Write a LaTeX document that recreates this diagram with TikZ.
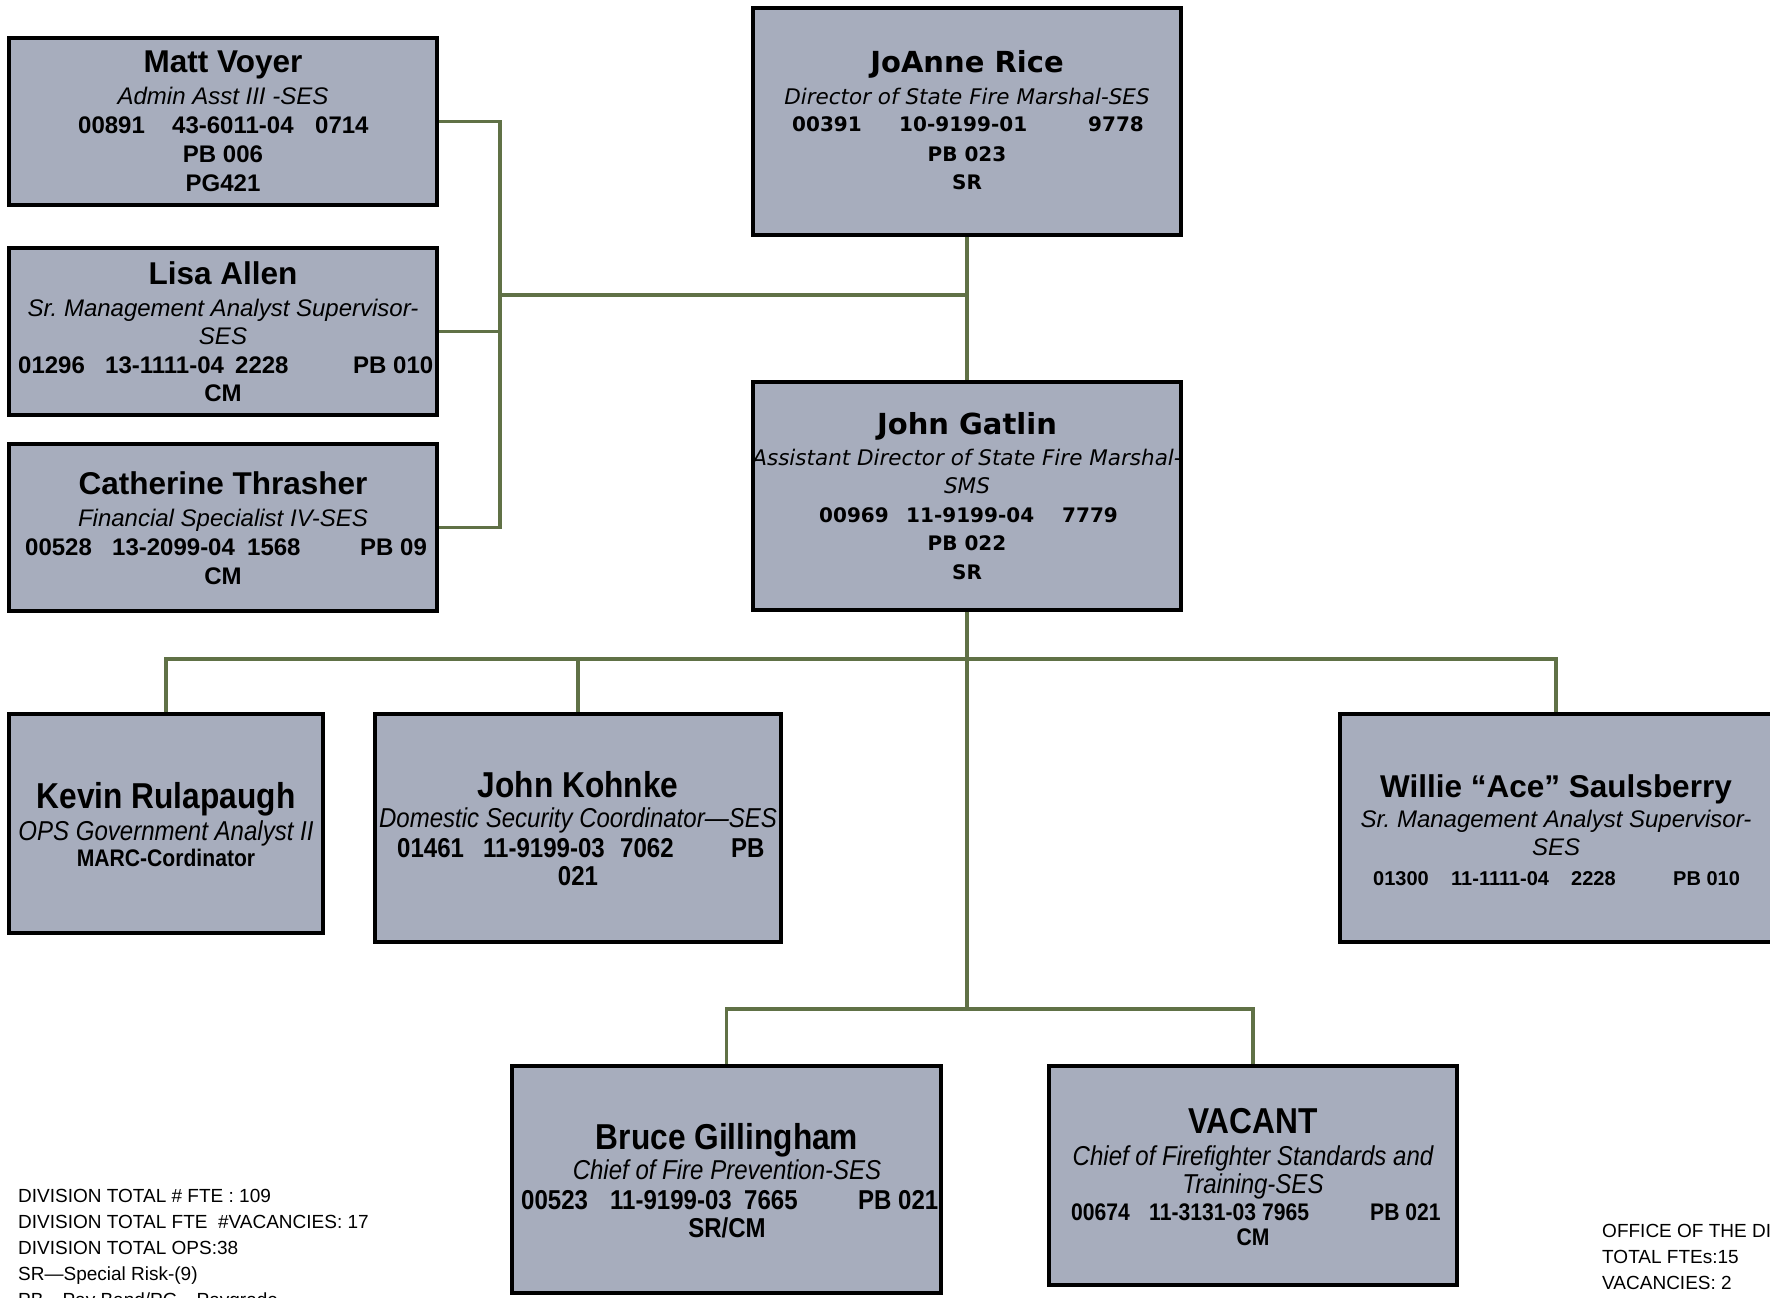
\documentclass[tikz,border=0pt]{standalone}
\usepackage{fontspec}
\setmainfont{Liberation Sans}
\newfontfamily\narrowf[FakeStretch=0.88]{Liberation Sans}
\newfontfamily\widef[ItalicFont={DejaVu Sans Oblique},BoldFont={DejaVu Sans Bold},BoldItalicFont={DejaVu Sans Bold Oblique}]{DejaVu Sans}
\definecolor{boxfill}{RGB}{167,173,189}
\definecolor{lineg}{RGB}{96,113,70}
\frenchspacing
\tikzset{
 box/.style={draw=black, line width=4pt, fill=boxfill, inner sep=0pt, rectangle},
 conn/.style={draw=lineg, line width=3.5pt},
 ctr/.style={inner sep=0pt, anchor=base},
 lft/.style={inner sep=0pt, anchor=base west},
 anam/.style={font=\bfseries\fontsize{31.5}{34}\selectfont},
 ait/.style={font=\itshape\fontsize{24}{28}\selectfont},
 abd/.style={font=\bfseries\fontsize{24}{28}\selectfont},
 abds/.style={font=\bfseries\fontsize{20}{24}\selectfont},
 wnam/.style={font=\widef\bfseries\fontsize{29}{32}\selectfont},
 wit/.style={font=\widef\itshape\fontsize{21.5}{25}\selectfont},
 wbd/.style={font=\widef\bfseries\fontsize{20}{24}\selectfont},
 nnam/.style={font=\narrowf\bfseries\fontsize{36}{40}\selectfont},
 nit/.style={font=\narrowf\itshape\fontsize{27.3}{30}\selectfont},
 nbd/.style={font=\narrowf\bfseries\fontsize{27.3}{30}\selectfont},
 nbds/.style={font=\narrowf\bfseries\fontsize{24}{28}\selectfont},
 note/.style={font=\fontsize{19}{22}\selectfont, inner sep=0pt, anchor=base west},
}
\begin{document}
\begin{tikzpicture}[x=1pt,y=-1pt]
\fill[white] (0,0) rectangle (1770,1298);
\useasboundingbox (0,0) rectangle (1770,1298);

% boxes
\node[box, minimum width=428pt, minimum height=167pt] (matt) at (223,121.5) {};
\node[box, minimum width=428pt, minimum height=167pt] (lisa) at (223,331.5) {};
\node[box, minimum width=428pt, minimum height=167pt] (cath) at (223,527.5) {};
\node[box, minimum width=428pt, minimum height=227pt] (joanne) at (967,121.5) {};
\node[box, minimum width=428pt, minimum height=228pt] (gatlin) at (967,496) {};
\node[box, minimum width=314pt, minimum height=219pt] (kevin) at (166,823.5) {};
\node[box, minimum width=406pt, minimum height=228pt] (kohnke) at (578,828) {};
\node[box, minimum width=432pt, minimum height=228pt] (willie) at (1556,828) {};
\node[box, minimum width=429pt, minimum height=227pt] (bruce) at (726.5,1179.5) {};
\node[box, minimum width=408pt, minimum height=219pt] (vacant) at (1253,1175.5) {};

% connectors
\coordinate (lv) at (500,295);
\coordinate (bus1) at (967,659);
\coordinate (bus2) at (967,1009);
\draw[conn] (matt.east) -| (lv |- cath.east) -- (cath.east);
\draw[conn] (lisa.east) -- (lisa.east -| lv);
\draw[conn] (lv) -- (lv -| joanne.south);
\draw[conn] (joanne.south) -- (gatlin.north);
\draw[conn] (gatlin.south) -- (bus2);
\draw[conn] (kevin.north) |- (bus1) -| (willie.north);
\draw[conn] (kohnke.north) -- (kohnke.north |- bus1);
\draw[conn] (bruce.north) |- (bus2) -| (vacant.north);

% Matt Voyer
\node[ctr, anam] (mattN) at (223,73) {Matt Voyer};
\node[ctr, ait] (mattT) at (223,104) {Admin Asst III -SES};
\node[lft, abd] (mattA) at (78,133) {00891};
\node[lft, abd] (mattB) at (172,133) {43-6011-04};
\node[lft, abd] (mattC) at (315,133) {0714};
\node[ctr, abd] (mattP) at (223,162) {PB 006};
\node[ctr, abd] (mattG) at (223,191) {PG421};

% Lisa Allen
\node[ctr, anam] (lisaN) at (223,284) {Lisa Allen};
\node[ctr, ait] (lisaT) at (223,316) {Sr. Management Analyst Supervisor-};
\node[ctr, ait] (lisaT2) at (223,344) {SES};
\node[lft, abd] (lisaA) at (18,373) {01296};
\node[lft, abd] (lisaB) at (105,373) {13-1111-04};
\node[lft, abd] (lisaC) at (235,373) {2228};
\node[lft, abd] (lisaD) at (353,373) {PB 010};
\node[ctr, abd] (lisaE) at (223,401) {CM};

% Catherine Thrasher
\node[ctr, anam] (cathN) at (223,494) {Catherine Thrasher};
\node[ctr, ait] (cathT) at (223,526) {Financial Specialist IV-SES};
\node[lft, abd] (cathA) at (25,555) {00528};
\node[lft, abd] (cathB) at (112,555) {13-2099-04};
\node[lft, abd] (cathC) at (247,555) {1568};
\node[lft, abd] (cathD) at (360,555) {PB 09};
\node[ctr, abd] (cathE) at (223,584) {CM};

% JoAnne Rice
\node[ctr, wnam] (joN) at (967,73) {JoAnne Rice};
\node[ctr, wit] (joT) at (967,104) {Director of State Fire Marshal-SES};
\node[lft, wbd] (joA) at (792,131) {00391};
\node[lft, wbd] (joB) at (899,131) {10-9199-01};
\node[lft, wbd] (joC) at (1088,131) {9778};
\node[ctr, wbd] (joP) at (967,161) {PB 023};
\node[ctr, wbd] (joS) at (967,189) {SR};

% John Gatlin
\node[ctr, wnam] (gaN) at (967,434) {John Gatlin};
\node[ctr, wit] (gaT) at (967,465) {Assistant Director of State Fire Marshal-};
\node[ctr, wit] (gaT2) at (967,493) {SMS};
\node[lft, wbd] (gaA) at (819,522) {00969};
\node[lft, wbd] (gaB) at (906,522) {11-9199-04};
\node[lft, wbd] (gaC) at (1062,522) {7779};
\node[ctr, wbd] (gaP) at (967,550) {PB 022};
\node[ctr, wbd] (gaS) at (967,579) {SR};

% Kevin Rulapaugh
\node[ctr, nnam] (keN) at (166,808) {Kevin Rulapaugh};
\node[ctr, nit] (keT) at (166,840) {OPS Government Analyst II};
\node[ctr, nbds] (keM) at (166,866) {MARC-Cordinator};

% John Kohnke
\node[ctr, nnam] (koN) at (578,797) {John Kohnke};
\node[ctr, nit] (koT) at (578,827) {Domestic Security Coordinator—SES};
\node[lft, nbd] (koA) at (397,857) {01461};
\node[lft, nbd] (koB) at (483,857) {11-9199-03};
\node[lft, nbd] (koC) at (620,857) {7062};
\node[lft, nbd] (koD) at (731,857) {PB};
\node[ctr, nbd] (koE) at (578,885) {021};

% Willie Saulsberry
\node[ctr, anam] (wiN) at (1556,797) {Willie “Ace” Saulsberry};
\node[ctr, ait] (wiT) at (1556,827) {Sr. Management Analyst Supervisor-};
\node[ctr, ait] (wiT2) at (1556,855) {SES};
\node[lft, abds] (wiA) at (1373,885) {01300};
\node[lft, abds] (wiB) at (1451,885) {11-1111-04};
\node[lft, abds] (wiC) at (1571,885) {2228};
\node[lft, abds] (wiD) at (1673,885) {PB 010};

% Bruce Gillingham
\node[ctr, nnam] (brN) at (727,1149) {Bruce Gillingham};
\node[ctr, nit] (brT) at (727,1179) {Chief of Fire Prevention-SES};
\node[lft, nbd] (brA) at (521,1209) {00523};
\node[lft, nbd] (brB) at (610,1209) {11-9199-03};
\node[lft, nbd] (brC) at (744,1209) {7665};
\node[lft, nbd] (brD) at (858,1209) {PB 021};
\node[ctr, nbd] (brE) at (727,1237) {SR/CM};

% VACANT
\node[ctr, nnam] (vaN) at (1253,1133) {VACANT};
\node[ctr, nit] (vaT) at (1253,1165) {Chief of Firefighter Standards and};
\node[ctr, nit] (vaT2) at (1253,1193) {Training-SES};
\node[lft, nbds] (vaA) at (1071,1220) {00674};
\node[lft, nbds] (vaB) at (1149,1220) {11-3131-03};
\node[lft, nbds] (vaC) at (1262,1220) {7965};
\node[lft, nbds] (vaD) at (1370,1220) {PB 021};
\node[ctr, nbds] (vaE) at (1253,1245) {CM};

% notes
\node[note] (n1) at (18,1202) {DIVISION TOTAL \# FTE : 109};
\node[note] (n2) at (18,1228) {DIVISION TOTAL FTE \ \#VACANCIES: 17};
\node[note] (n3) at (18,1254) {DIVISION TOTAL OPS:38};
\node[note] (n4) at (18,1280) {SR—Special Risk-(9)};
\node[note] (n5) at (18,1306) {PB—Pay Band/PG—Paygrade};
\node[note] (r1) at (1602,1237) {OFFICE OF THE DIRECTOR};
\node[note] (r2) at (1602,1263) {TOTAL FTEs:15};
\node[note] (r3) at (1602,1289) {VACANCIES: 2};
\end{tikzpicture}
\end{document}
